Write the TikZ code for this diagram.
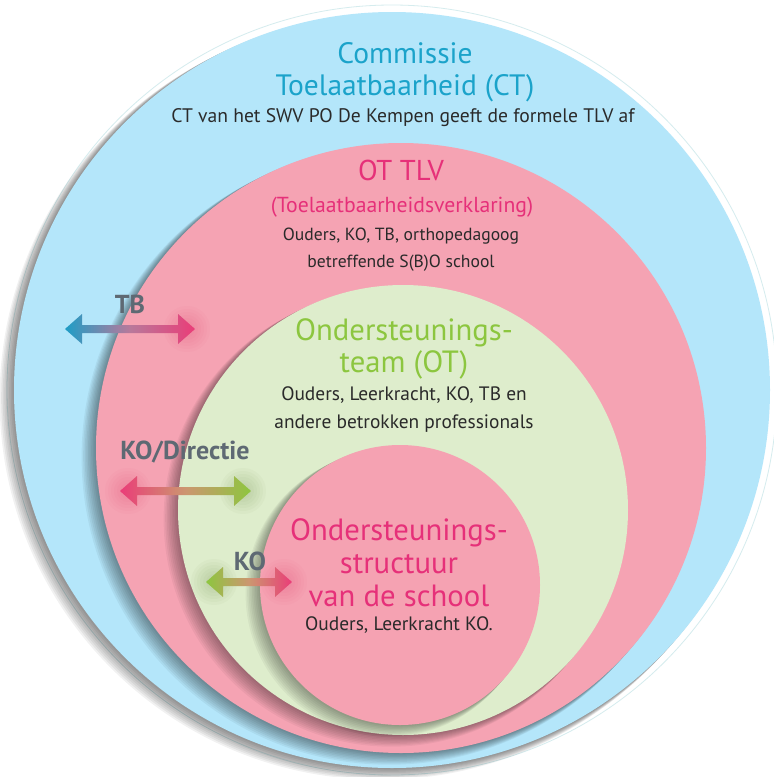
\documentclass[tikz,border=0pt]{standalone}
\usepackage{fontspec}
\setmainfont{PT Sans}
\usetikzlibrary{calc}
\definecolor{bluefill}{HTML}{B4E6FA}
\definecolor{pinkfill}{HTML}{F5A3B3}
\definecolor{greenfill}{HTML}{DEEDCC}
\definecolor{innerpink}{HTML}{F5A2B2}
\definecolor{titleblue}{HTML}{1BA3CA}
\definecolor{titlepink}{HTML}{E63079}
\definecolor{titlegreen}{HTML}{8CC63F}
\definecolor{bodytext}{HTML}{2A2A2A}
\definecolor{labelgray}{HTML}{5E6973}
\definecolor{arrblue}{HTML}{1E9DC6}
\definecolor{arrpink}{HTML}{EA3D78}
\definecolor{arrgreen}{HTML}{8DC63F}
\definecolor{arrmauve}{HTML}{B8799B}
\definecolor{arrtan}{HTML}{CC9670}
\definecolor{ringline}{HTML}{D5ECEE}
\definecolor{glowpink}{HTML}{E2557F}
\definecolor{glowgreen}{HTML}{7E9A5C}

\newcommand\softshadow[4]{%
  \foreach \k in {1,...,9}{\fill[black,opacity=#4] (#1-1.3*\k,#2+1.0*\k) circle[radius=#3+0.3*\k];}}

\newcommand\headglow[2]{%
  \foreach \r in {8,11,...,23}{\fill[#2,opacity=0.05] (#1) circle[radius=\r];}}

\newcommand\gradarrow[5]{%
  \shade[left color=#3, right color=#5, middle color=#4]
    (#1) -- ($(#1)+(17,-15)$) -- ($(#1)+(17,-4)$) -- ($(#2)+(-17,-4)$) -- ($(#2)+(-17,-15)$)
    -- (#2) -- ($(#2)+(-17,15)$) -- ($(#2)+(-17,4)$) -- ($(#1)+(17,4)$) -- ($(#1)+(17,15)$) -- cycle;}

\begin{document}
\begin{tikzpicture}[x=1pt,y=-1pt,
  titletxt/.style={font=\fontsize{29}{32}\selectfont, align=center, inner sep=0pt},
  bodytxt/.style={font=\fontsize{19.4}{27}\selectfont, text=bodytext, align=center, inner sep=0pt},
  lbltxt/.style={font=\bfseries\fontsize{26}{28}\selectfont, text=labelgray, inner sep=0pt}]
\useasboundingbox (0,0) rectangle (774,777);
\fill[white] (0,0) rectangle (774,777);

% outer circle
\draw[ringline, line width=0.8pt] (392,390) circle[radius=385];
\softshadow{392}{390}{378}{0.055}
\fill[bluefill] (392,390) circle[radius=378];
% OT TLV circle
\softshadow{401}{448}{305}{0.05}
\fill[pinkfill] (401,448) circle[radius=305];
% OT circle
\softshadow{403}{510}{225}{0.045}
\fill[greenfill] (403,510) circle[radius=225];
% school circle
\softshadow{400}{585}{140}{0.045}
\fill[innerpink] (400,585) circle[radius=140];

% texts
\node[titletxt, text=titleblue, font=\fontsize{29.5}{32}\selectfont] (ctT) at (405,72) {Commissie\\Toelaatbaarheid (CT)};
\node[bodytxt, font=\fontsize{19.6}{27}\selectfont] (ctB) at (403,118) {CT van het SWV PO De Kempen geeft de formele TLV af};
\node[titletxt, text=titlepink, font=\fontsize{28.7}{32}\selectfont] (otT) at (401,170) {OT TLV};
\node[titletxt, text=titlepink, font=\fontsize{21.7}{24}\selectfont] (otS) at (402,207) {(Toelaatbaarheidsverklaring)};
\node[bodytxt, font=\fontsize{17.6}{27}\selectfont] (otB) at (401,250) {Ouders, KO, TB, orthopedagoog\\betreffende S(B)O school};
\node[titletxt, text=titlegreen, font=\fontsize{30.7}{32}\selectfont] (ogT) at (404,349) {Ondersteunings-\\team (OT)};
\node[bodytxt, font=\fontsize{19.4}{28}\selectfont] (ogB) at (404,410) {Ouders, Leerkracht, KO, TB en\\andere betrokken professionals};
\node[titletxt, text=titlepink, font=\fontsize{30.7}{33}\selectfont] (osT) at (399,563) {Ondersteunings-\\structuur\\van de school};
\node[bodytxt] (osB) at (399,625) {Ouders, Leerkracht KO.};

% labels
\node[lbltxt] (lTB) at (130,304) {TB};
\node[lbltxt] (lKD) at (185,452) {KO/Directie};
\node[lbltxt] (lKO) at (250,561) {KO};

% arrows
\coordinate (tbL) at (65,329);
\coordinate (tbR) at (195,329);
\coordinate (kdL) at (120,491);
\coordinate (kdR) at (251,491);
\coordinate (koL) at (206,582);
\coordinate (koR) at (292,582);
\headglow{$(tbR)+(-8,0)$}{glowpink}
\headglow{$(kdL)+(8,0)$}{glowpink}
\headglow{$(koR)+(-8,0)$}{glowpink}
\headglow{$(kdR)+(-8,0)$}{glowgreen}
\headglow{$(koL)+(8,0)$}{glowgreen}
\gradarrow{tbL}{tbR}{arrblue}{arrmauve}{arrpink}
\gradarrow{kdL}{kdR}{arrpink}{arrtan}{arrgreen}
\gradarrow{koL}{koR}{arrgreen}{arrtan}{arrpink}
\end{tikzpicture}
\end{document}
